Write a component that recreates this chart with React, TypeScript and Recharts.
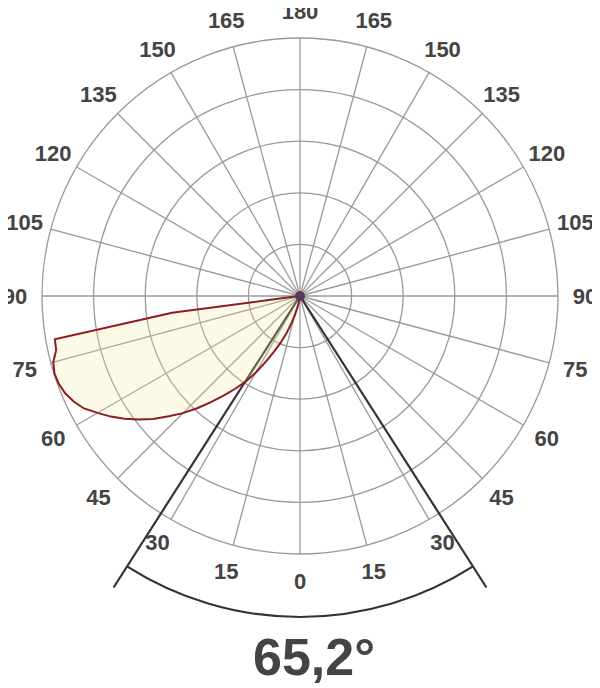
import React from 'react';
import { RadarChart, Radar, PolarGrid, PolarAngleAxis, PolarRadiusAxis, Customized } from 'recharts';

// ---- layout constants ----
const W = 600;
const H = 688;
const CX = 300;
const CY = 296;
const R = 258;
const LABEL_R = 285;

// ---- data ----
// gamma angles (0 = straight down, clockwise through 90 on the left, 180 at top, back down on the right)
const STEP = 2.5;
const ANGLES: number[] = Array.from({ length: 144 }, (_, i) => i * STEP);

// tick angles for the grid spokes and labels
const GRID_ANGLES = [0, 15, 30, 45, 60, 75, 90, 105, 120, 135, 150, 165, 180, 195, 210, 225, 240, 255, 270, 285, 300, 315, 330, 345];

// relative intensity rings
const RADIUS_TICKS = [0.2, 0.4, 0.6, 0.8, 1];

// relative intensity, C0-C180 plane (values every 2.5°)
const C0_C180 = [
  0, 0.004, 0.008, 0.015, 0.026, 0.045, 0.075, 0.112, 0.155, 0.196, 0.238, 0.288,
  0.342, 0.395, 0.44, 0.487, 0.537, 0.59, 0.642, 0.69, 0.742, 0.787, 0.83, 0.87,
  0.906, 0.944, 0.968, 0.985, 0.995, 0.998, 0.99, 0.968, 0.965, 0.5, 0.02, 0.012,
  0.01, 0.01, 0.01, 0.01, 0.01, 0.01, 0.01, 0.01, 0.01, 0.01, 0.01, 0.01,
  0.01, 0.01, 0.01, 0.01, 0.01, 0.01, 0.01, 0.01, 0.01, 0.01, 0.01, 0.01,
  0.01, 0.01, 0.01, 0.01, 0.01, 0.01, 0.01, 0.01, 0.01, 0.01, 0.01, 0.01,
  0.01, 0.01, 0.01, 0.01, 0.01, 0.01, 0.01, 0.01, 0.01, 0.01, 0.01, 0.01,
  0.01, 0.01, 0.01, 0.01, 0.01, 0.01, 0.01, 0.01, 0.01, 0.01, 0.01, 0.01,
  0.01, 0.01, 0.01, 0.01, 0.01, 0.01, 0.01, 0.01, 0.01, 0.01, 0.01, 0.01,
  0.01, 0.01, 0.01, 0.01, 0.01, 0.01, 0.01, 0.01, 0.01, 0.01, 0.01, 0.01,
  0.01, 0.01, 0.01, 0.01, 0.01, 0.01, 0.01, 0.01, 0.01, 0.01, 0.01, 0.01,
  0.01, 0.01, 0.01, 0.01, 0.01, 0.01, 0.008, 0.006, 0.004, 0.003, 0.002, 0.001,
];

// relative intensity, C90-C270 plane (tiny blob at the centre)
const C90_C270 = [
  0.016, 0.016, 0.016, 0.016, 0.016, 0.016, 0.016, 0.016, 0.016, 0.016, 0.016, 0.016,
  0.016, 0.016, 0.016, 0.016, 0.016, 0.016, 0.016, 0.016, 0.016, 0.016, 0.016, 0.016,
  0.016, 0.016, 0.016, 0.016, 0.016, 0.016, 0.016, 0.016, 0.016, 0.016, 0.016, 0.016,
  0.016, 0.016, 0.016, 0.016, 0.016, 0.016, 0.016, 0.016, 0.016, 0.016, 0.016, 0.016,
  0.016, 0.016, 0.016, 0.016, 0.016, 0.016, 0.016, 0.016, 0.016, 0.016, 0.016, 0.016,
  0.016, 0.016, 0.016, 0.016, 0.016, 0.016, 0.016, 0.016, 0.016, 0.016, 0.016, 0.016,
  0.016, 0.016, 0.016, 0.016, 0.016, 0.016, 0.016, 0.016, 0.016, 0.016, 0.016, 0.016,
  0.016, 0.016, 0.016, 0.016, 0.016, 0.016, 0.016, 0.016, 0.016, 0.016, 0.016, 0.016,
  0.016, 0.016, 0.016, 0.016, 0.016, 0.016, 0.016, 0.016, 0.016, 0.016, 0.016, 0.016,
  0.016, 0.016, 0.016, 0.016, 0.016, 0.016, 0.016, 0.016, 0.016, 0.016, 0.016, 0.016,
  0.016, 0.016, 0.016, 0.016, 0.016, 0.016, 0.016, 0.016, 0.016, 0.016, 0.016, 0.016,
  0.016, 0.016, 0.016, 0.016, 0.016, 0.016, 0.016, 0.016, 0.016, 0.016, 0.016, 0.016,
];

const BEAM_ANGLE = 65.2;

const data = ANGLES.map((a, i) => ({ angle: a, c0: C0_C180[i], c90: C90_C270[i] }));

const FONT = '"Liberation Sans", Arial, Helvetica, sans-serif';
const TEXT_COLOR = '#444444';

const toXY = (gammaDeg: number, r: number) => {
  const rad = (gammaDeg * Math.PI) / 180;
  return { x: CX - r * Math.sin(rad), y: CY + r * Math.cos(rad) };
};

const AngleTick = (props: any) => {
  const v = Number(props?.payload?.value);
  if (!GRID_ANGLES.includes(v)) return <g />;
  const p = toXY(v, LABEL_R);
  const label = v <= 180 ? v : 360 - v;
  return (
    <text
      x={p.x}
      y={p.y}
      textAnchor="middle"
      dominantBaseline="central"
      fontFamily={FONT}
      fontWeight="bold"
      fontSize={22}
      fill={TEXT_COLOR}
    >
      {label}
    </text>
  );
};

const BeamOverlay = () => {
  const half = BEAM_ANGLE / 2;
  const lineR = 346;
  const arcR = 321;
  const l1 = toXY(half, lineR);
  const l2 = toXY(-half, lineR);
  const a1 = toXY(half, arcR);
  const a2 = toXY(-half, arcR);
  return (
    <g>
      <line x1={CX} y1={CY} x2={l1.x} y2={l1.y} stroke="#333333" strokeWidth={2.2} />
      <line x1={CX} y1={CY} x2={l2.x} y2={l2.y} stroke="#333333" strokeWidth={2.2} />
      <path
        d={`M ${a1.x} ${a1.y} A ${arcR} ${arcR} 0 0 0 ${a2.x} ${a2.y}`}
        fill="none"
        stroke="#333333"
        strokeWidth={2.2}
      />
      <text
        x={253}
        y={675}
        textAnchor="start"
        fontFamily={FONT}
        fontWeight="bold"
        fontSize={52}
        fill={TEXT_COLOR}
      >
        {String(BEAM_ANGLE).replace('.', ',') + '°'}
      </text>
    </g>
  );
};

export default function App() {
  return (
    <div style={{ width: W, height: H, margin: '-8px 0 0 -8px' }}>
      <RadarChart
        width={W}
        height={H}
        data={data}
        cx={CX}
        cy={CY}
        outerRadius={R}
        startAngle={-90}
        endAngle={-450}
        margin={{ top: 0, right: 0, bottom: 0, left: 0 }}
      >
        <PolarGrid
          gridType="circle"
          polarAngles={GRID_ANGLES.map((g) => -90 - g)}
          polarRadius={RADIUS_TICKS.map((t) => t * R)}
          stroke="#999999"
          strokeWidth={1.3}
        />
        <PolarAngleAxis dataKey="angle" axisLine={false} tickLine={false} tick={AngleTick} />
        <PolarRadiusAxis domain={[0, 1]} tickCount={6} tick={false} axisLine={false} />
        <Radar
          dataKey="c0"
          stroke="#8c1d24"
          strokeWidth={2}
          fill="#f3e6a0"
          fillOpacity={0.25}
          isAnimationActive={false}
        />
        <Radar
          dataKey="c90"
          stroke="#7a2a40"
          strokeWidth={1.5}
          fill="#3e4270"
          fillOpacity={0.9}
          isAnimationActive={false}
        />
        <Customized component={<BeamOverlay />} />
      </RadarChart>
    </div>
  );
}
